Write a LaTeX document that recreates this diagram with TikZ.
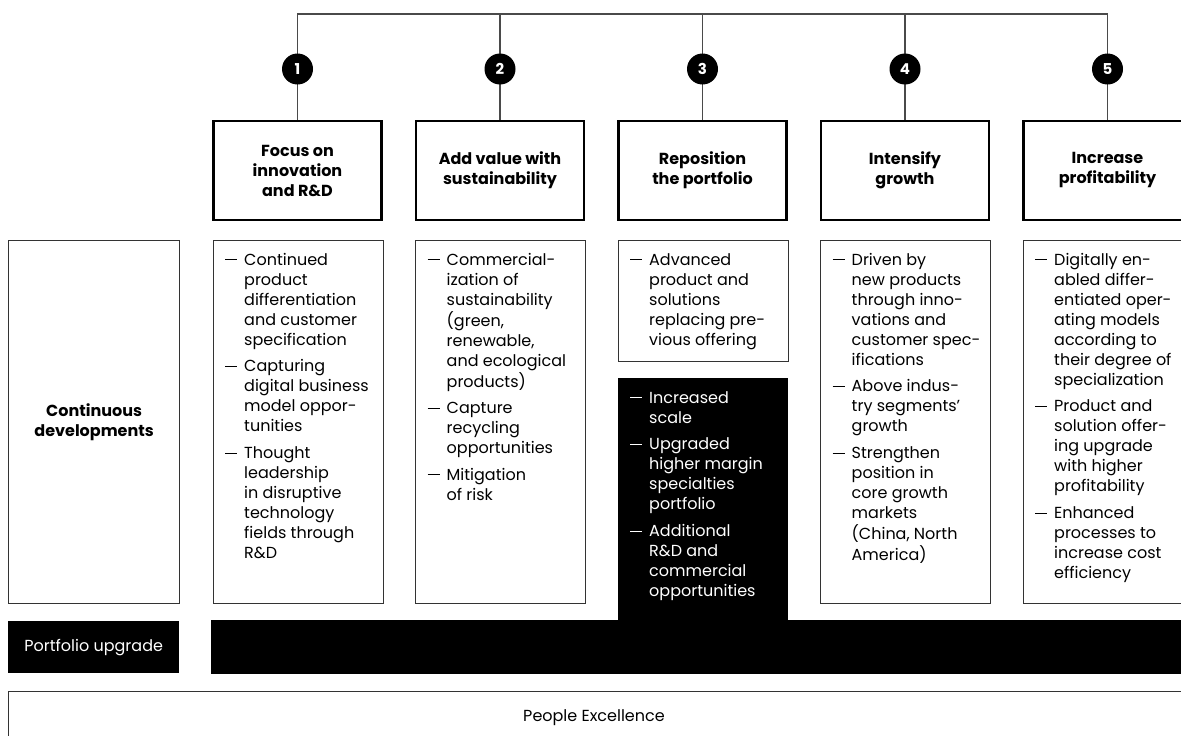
\documentclass[tikz,border=0pt]{standalone}
\usepackage{fontspec}
\setmainfont{Poppins}
\usetikzlibrary{calc}

\definecolor{edge}{HTML}{333333}
\definecolor{wire}{HTML}{4A4A4A}

% bullet: a short rule followed by the hanging text column
\newcommand\itm{\makebox[19pt][l]{\rule[5pt]{12pt}{1pt}}&}
\newenvironment{bullets}{\fontsize{16}{20}\selectfont\begin{tabular}[t]{@{}l@{}l@{}}}{\end{tabular}}

\tikzset{
  wireline/.style={draw=wire, line width=1.3pt},
  hdrbox/.style={draw=black, line width=2.5pt, minimum width=168pt, minimum height=99pt,
    align=center, inner sep=0pt, font={\fontsize{16}{20}\selectfont\bfseries}},
  numdot/.style={circle, fill=black, minimum size=31pt, inner sep=0pt, text=white,
    font={\fontsize{15}{16}\selectfont\bfseries}},
  colbox/.style={draw=edge, line width=1.2pt, minimum width=170pt, inner sep=0pt, anchor=north west},
  blackbox/.style={fill=black, draw=none, inner sep=0pt, anchor=north west},
  bultext/.style={anchor=north west, inner sep=0pt},
  plain/.style={inner sep=0pt, font={\fontsize{16}{20}\selectfont}}
}

\begin{document}
\begin{tikzpicture}[x=1pt,y=-1pt]
\clip (0,0) rectangle (1181,736);
\fill[white] (0,0) rectangle (1181,736);

\coordinate (bar) at (0,14);

% strategy headers
\node[hdrbox] (h1) at (297.5,170.5) {Focus on\\innovation\\and R\&D};
\node[hdrbox] (h2) at (500,170.5) {Add value with\\sustainability};
\node[hdrbox] (h3) at (702.5,170.5) {Reposition\\the portfolio};
\node[hdrbox] (h4) at (905,170.5) {Intensify\\growth};
\node[hdrbox] (h5) at (1107.5,170.5) {Increase\\profitability};

% tree of connectors from the top rail
\draw[wireline] (h1.north) -- (h1.north |- bar) -- (h5.north |- bar) -- (h5.north);
\foreach \k in {2,3,4}{
  \draw[wireline] (h\k.north) -- (h\k.north |- bar);
}

% numbered dots on the connectors
\foreach \k in {1,...,5}{
  \node[numdot] (n\k) at (h\k.north |- 0,69) {\k};
}

% row label
\node[colbox, minimum width=171pt, minimum height=363pt] (cd) at (8,240) {};
\node[plain, align=center, font={\fontsize{16}{20}\selectfont\bfseries}] (cdt) at (cd.center) {Continuous\\developments};

% column 1
\node[colbox, minimum height=363pt] (b1) at (212.5,240) {};
\node[bultext] (t1) at ([xshift=12.5pt,yshift=-11pt]b1.north west) {\begin{bullets}
\itm Continued\\ & product\\ & differentiation\\ & and customer\\ & specification\\[6.7pt]
\itm Capturing\\ & digital business\\ & model oppor-\\ & tunities\\[6.7pt]
\itm Thought\\ & leadership\\ & in disruptive\\ & technology\\ & fields through\\ & R\&D
\end{bullets}};

% column 2
\node[colbox, minimum height=363pt] (b2) at (415,240) {};
\node[bultext] (t2) at ([xshift=12.5pt,yshift=-11pt]b2.north west) {\begin{bullets}
\itm Commercial-\\ & ization of\\ & sustainability\\ & (green,\\ & renewable,\\ & and ecological\\ & products)\\[6.7pt]
\itm Capture\\ & recycling\\ & opportunities\\[6.7pt]
\itm Mitigation\\ & of risk
\end{bullets}};

% column 3, upper box
\node[colbox, minimum height=121pt] (b3) at (617.5,240) {};
\node[bultext] (t3) at ([xshift=12.5pt,yshift=-11pt]b3.north west) {\begin{bullets}
\itm Advanced\\ & product and\\ & solutions\\ & replacing pre-\\ & vious offering
\end{bullets}};

% column 3, portfolio block
\node[blackbox, minimum width=170pt, minimum height=270pt] (b3x) at (617.5,378) {};
\node[bultext, text=white] (t3x) at ([xshift=12.5pt,yshift=-11pt]b3x.north west) {\begin{bullets}
\itm Increased\\ & scale\\[6.7pt]
\itm Upgraded\\ & higher margin\\ & specialties\\ & portfolio\\[6.7pt]
\itm Additional\\ & R\&D and\\ & commercial\\ & opportunities
\end{bullets}};

% column 4
\node[colbox, minimum height=363pt] (b4) at (820,240) {};
\node[bultext] (t4) at ([xshift=12.5pt,yshift=-11pt]b4.north west) {\begin{bullets}
\itm Driven by\\ & new products\\ & through inno-\\ & vations and\\ & customer spec-\\ & ifications\\[6.7pt]
\itm Above indus-\\ & try segments’\\ & growth\\[6.7pt]
\itm Strengthen\\ & position in\\ & core growth\\ & markets\\ & (China, North\\ & America)
\end{bullets}};

% column 5
\node[colbox, minimum height=363pt] (b5) at (1022.5,240) {};
\node[bultext] (t5) at ([xshift=12.5pt,yshift=-11pt]b5.north west) {\begin{bullets}
\itm Digitally en-\\ & abled differ-\\ & entiated oper-\\ & ating models\\ & according to\\ & their degree of\\ & specialization\\[6.7pt]
\itm Product and\\ & solution offer-\\ & ing upgrade\\ & with higher\\ & profitability\\[6.7pt]
\itm Enhanced\\ & processes to\\ & increase cost\\ & efficiency
\end{bullets}};

% portfolio upgrade row
\node[blackbox, minimum width=171pt, minimum height=52pt] (pu) at (8,621) {};
\node[plain, text=white] (put) at (pu.center) {Portfolio upgrade};
\node[blackbox, minimum width=980pt, minimum height=54pt] (pbar) at (211,620) {};

% people excellence row
\node[colbox, minimum width=1190pt, minimum height=70pt] (pe) at (8,691) {};
\node[plain] (pet) at (594,718) {People Excellence};
\end{tikzpicture}
\end{document}
